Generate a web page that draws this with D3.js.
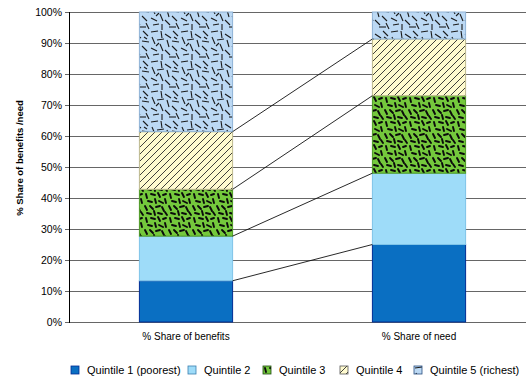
<!DOCTYPE html>
<html>
<head>
<meta charset="utf-8">
<script src="https://cdn.jsdelivr.net/npm/d3@7"></script>
<style>
  html, body { margin: 0; padding: 0; background: #fff; }
  svg { display: block; }
  text { font-family: "Liberation Sans", Arial, sans-serif; fill: #000; }
</style>
</head>
<body>
<svg id="chart" width="526" height="381"></svg>
<script>
// Stacked shares by income quintile
const categories = ["% Share of benefits", "% Share of need"];
const quintiles = ["Quintile 1 (poorest)", "Quintile 2", "Quintile 3", "Quintile 4", "Quintile 5 (richest)"];
const benefitsShare = [13.3, 14.4, 15.1, 18.6, 38.6];
const needShare = [25.0, 23.0, 25.0, 18.3, 8.7];
const yTicks = [0, 10, 20, 30, 40, 50, 60, 70, 80, 90, 100];
const yTitle = "% Share of benefits /need";

const svg = d3.select("#chart");
const plot = { left: 69, top: 12, bottom: 322, right: 526 };

const x = d3.scaleBand().domain(categories)
  .range([69.5, 535.5]).paddingInner(0.6).paddingOuter(0.3);
const y = d3.scaleLinear().domain([0, 100]).range([plot.bottom, plot.top]);

// ---- fill patterns ----
const defs = svg.append("defs");

// quintile 3: short heavy dashes on green
const q3Dashes = [
  [2,2,3,6],[7,2,11,3],[14,1,16,5],[19,3,22,2],[4,9,8,10],[11,7,12,11],
  [15,9,19,11],[21,7,22,11],[1,14,3,18],[6,14,9,17],[12,15,16,14],
  [18,15,20,19],[3,21,7,22],[10,19,11,23],[14,21,18,22],[21,20,23,23]
];
const p3 = defs.append("pattern").attr("id", "pat-q3").attr("patternUnits", "userSpaceOnUse")
  .attr("width", 24).attr("height", 24);
p3.append("rect").attr("width", 24).attr("height", 24).attr("fill", "#74c83c");
p3.selectAll("line").data(q3Dashes).join("line")
  .attr("x1", d => d[0]).attr("y1", d => d[1]).attr("x2", d => d[2]).attr("y2", d => d[3])
  .attr("stroke", "#0a0a0a").attr("stroke-width", 1.9).attr("stroke-linecap", "round");

// quintile 4: diagonal hatch on cream
const p4 = defs.append("pattern").attr("id", "pat-q4").attr("patternUnits", "userSpaceOnUse")
  .attr("width", 7).attr("height", 7);
p4.append("rect").attr("width", 7).attr("height", 7).attr("fill", "#fffbcf");
p4.append("path").attr("d", "M-1,1 L1,-1 M0,7 L7,0 M6,8 L8,6")
  .attr("stroke", "#2a2a2a").attr("stroke-width", 0.9);

// quintile 5: thin scattered strokes on pale blue
const q5Dashes = [
  [1,2,8,1],[11,1,12,8],[15,4,21,8],[23,1,28,6],[2,7,5,14],[7,10,14,9],
  [17,10,19,17],[22,11,29,12],[1,18,7,21],[10,14,13,21],[15,20,20,25],
  [22,16,27,21],[3,25,9,24],[12,24,12,30],[19,27,26,27],[26,23,29,29],
  [6,16,9,13],[24,7,27,9]
];
const p5 = defs.append("pattern").attr("id", "pat-q5").attr("patternUnits", "userSpaceOnUse")
  .attr("width", 30).attr("height", 30);
p5.append("rect").attr("width", 30).attr("height", 30).attr("fill", "#bcd9f4");
p5.selectAll("line").data(q5Dashes).join("line")
  .attr("x1", d => d[0]).attr("y1", d => d[1]).attr("x2", d => d[2]).attr("y2", d => d[3])
  .attr("stroke", "#1a1a1a").attr("stroke-width", 1.1);

const fills = ["#0a6fc2", "#9edcf9", "url(#pat-q3)", "url(#pat-q4)", "url(#pat-q5)"];
const strokes = ["#002c94", "#7fc4e8", "#4d9a25", "#bdb98f", "#8fb3d6"];
const legendStrokes = ["#002c94", "#3a7fb0", "#1e4a10", "#555", "#2a4f80"];

// ---- gridlines and axis ----
svg.append("g").selectAll("line").data(yTicks).join("line")
  .attr("x1", plot.left - 4).attr("x2", plot.right)
  .attr("y1", d => Math.round(y(d)) + 0.5).attr("y2", d => Math.round(y(d)) + 0.5)
  .attr("stroke", "#666").attr("stroke-width", 1);

svg.append("g").selectAll("text").data(yTicks).join("text")
  .attr("x", plot.left - 7).attr("y", d => y(d) + 4)
  .attr("text-anchor", "end").attr("font-size", 10.5)
  .text(d => d + "%");

svg.append("line").attr("x1", plot.left + 0.5).attr("x2", plot.left + 0.5)
  .attr("y1", plot.top).attr("y2", plot.bottom + 1).attr("stroke", "#000");

svg.append("text")
  .attr("transform", "translate(23,158) rotate(-90)")
  .attr("text-anchor", "middle").attr("font-size", 9.5).attr("font-weight", "bold")
  .text(yTitle);

// ---- stacked bars ----
const rows = categories.map((c, i) => {
  const vals = i === 0 ? benefitsShare : needShare;
  const r = { cat: c };
  quintiles.forEach((q, j) => r[q] = vals[j]);
  return r;
});
const stacked = d3.stack().keys(quintiles)(rows);

const layers = svg.append("g").selectAll("g").data(stacked).join("g")
  .attr("fill", (d, i) => fills[i]).attr("stroke", (d, i) => strokes[i]);
layers.selectAll("rect").data(d => d).join("rect")
  .attr("x", d => x(d.data.cat)).attr("width", x.bandwidth())
  .attr("y", d => y(d[1])).attr("height", d => y(d[0]) - y(d[1]))
  .attr("stroke-width", 1);

// ---- series lines between the bars ----
const x0 = x(categories[0]) + x.bandwidth();
const x1 = x(categories[1]);
svg.append("g").selectAll("line").data(stacked.slice(0, 4)).join("line")
  .attr("x1", x0).attr("y1", d => y(d[0][1]))
  .attr("x2", x1).attr("y2", d => y(d[1][1]))
  .attr("stroke", "#111").attr("stroke-width", 0.9);

// ---- category labels ----
svg.append("g").selectAll("text").data(categories).join("text")
  .attr("x", d => x(d) + x.bandwidth() / 2).attr("y", 340)
  .attr("text-anchor", "middle").attr("font-size", 10)
  .text(d => d);

// ---- legend ----
const legendSwatchX = [71, 188, 263, 340, 414];
const legend = svg.append("g").selectAll("g").data(quintiles).join("g")
  .attr("transform", (d, i) => `translate(${legendSwatchX[i]},366)`);
legend.append("rect").attr("width", 8).attr("height", 8)
  .attr("fill", (d, i) => fills[i]).attr("stroke", (d, i) => legendStrokes[i])
  .attr("stroke-width", 0.8);
legend.append("text").attr("x", 16).attr("y", 8).attr("font-size", 11)
  .text(d => d);
</script>
</body>
</html>
